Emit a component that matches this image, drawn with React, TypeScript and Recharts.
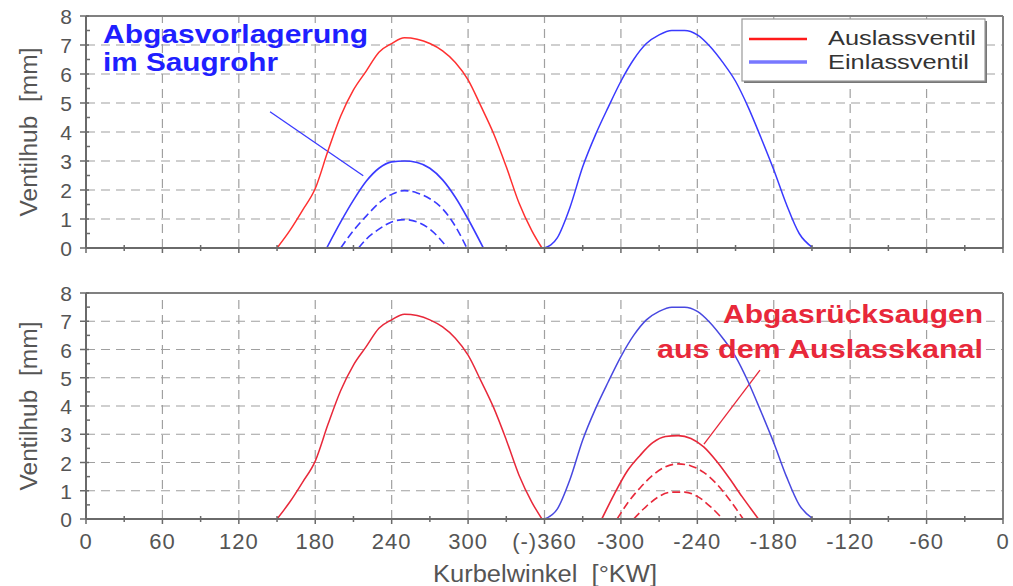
import React from "react";
import { LineChart, Line, XAxis, YAxis, ReferenceLine, Label } from "recharts";

// crank angle ticks (0..720 °KW, second half labelled negative)
const xTicks = [0, 30, 60, 90, 120, 150, 180, 210, 240, 270, 300, 330, 360, 390, 420, 450, 480, 510, 540, 570, 600, 630, 660, 690, 720];
const xTickLabels = ["0", "60", "120", "180", "240", "300", "(-)360", "-300", "-240", "-180", "-120", "-60", "0"];
const yTicks = [0, 0.5, 1, 1.5, 2, 2.5, 3, 3.5, 4, 4.5, 5, 5.5, 6, 6.5, 7, 7.5, 8];
const gridX = [60, 120, 180, 240, 300, 360, 420, 480, 540, 600, 660];
const gridY = [1, 2, 3, 4, 5, 6, 7];

// Auslassventil
const exhaustAngle = [150, 160, 170, 180, 190, 200, 210, 220, 230, 240, 250, 260, 270, 280, 290, 300, 310, 320, 330, 340, 350, 358];
const exhaustLift = [0, 0.6, 1.3, 2.05, 3.35, 4.55, 5.45, 6.1, 6.75, 7.05, 7.25, 7.2, 7.05, 6.8, 6.4, 5.8, 4.9, 3.95, 2.8, 1.55, 0.6, 0];

// Einlassventil
const intakeAngle = [360, 370, 380, 390, 400, 410, 420, 430, 440, 450, 460, 470, 480, 490, 500, 510, 520, 530, 540, 550, 560, 571];
const intakeLift = [0, 0.35, 1.4, 2.8, 3.9, 4.85, 5.75, 6.5, 7.05, 7.35, 7.5, 7.5, 7.35, 6.95, 6.4, 5.75, 4.85, 3.8, 2.7, 1.5, 0.5, 0];

// Abgasvorlagerung im Saugrohr (intake pre-lift)
const preLift3Angle = [189, 200, 210, 220, 230, 240, 250, 260, 270, 280, 290, 300, 312];
const preLift3 = [0, 0.9, 1.65, 2.3, 2.75, 2.97, 3.0, 2.95, 2.75, 2.35, 1.75, 1.0, 0];
const preLift2Angle = [200, 210, 220, 230, 240, 250, 260, 270, 280, 290, 299];
const preLift2 = [0, 0.6, 1.1, 1.55, 1.85, 1.98, 1.9, 1.7, 1.35, 0.75, 0];
const preLift1Angle = [214, 220, 230, 240, 250, 260, 270, 284];
const preLift1 = [0, 0.3, 0.65, 0.9, 0.98, 0.9, 0.65, 0];

// Abgasrücksaugen aus dem Auslasskanal (exhaust post-lift)
const postLift3Angle = [405, 415, 425, 435, 445, 455, 465, 475, 485, 495, 505, 515, 528];
const postLift3 = [0, 0.9, 1.7, 2.25, 2.7, 2.92, 2.95, 2.85, 2.55, 2.05, 1.45, 0.8, 0];
const postLift2Angle = [417, 425, 435, 445, 455, 465, 475, 485, 495, 505, 516];
const postLift2 = [0, 0.55, 1.1, 1.55, 1.85, 1.95, 1.88, 1.65, 1.25, 0.7, 0];
const postLift1Angle = [430, 440, 450, 460, 470, 480, 490, 500];
const postLift1 = [0, 0.45, 0.8, 0.95, 0.95, 0.8, 0.45, 0];

const toPoints = (angles: number[], lifts: number[]) =>
  angles.map((deg, i) => ({ deg, lift: lifts[i] }));

const RED = "#ff3030";
const RED2 = "#e8283a";
const BLUE = "#3a3aff";
const BLUE2 = "#4848e0";
const AXIS = "#6a6a6a";
const GRID = "#a0a0a0";
const FONT = "'Liberation Sans', Arial, sans-serif";

function XTick(props: any) {
  const { x, y, payload, showLabel } = props;
  const v = payload.value as number;
  const major = v % 60 === 0;
  return (
    <g>
      <line x1={x} x2={x} y1={y - (major ? 0 : 3)} y2={y + (major ? 5 : 3)} stroke={AXIS} strokeWidth={1.5} />
      {showLabel && major ? (
        <text x={x} y={y + 30} textAnchor="middle" fontSize={22} fill="#555" fontFamily={FONT} letterSpacing={1}>
          {xTickLabels[v / 60]}
        </text>
      ) : null}
    </g>
  );
}

function YTick(props: any) {
  const { x, y, payload } = props;
  const v = payload.value as number;
  const major = Number.isInteger(v);
  return (
    <g>
      {major ? (
        <line x1={x - 6} x2={x + 3} y1={y} y2={y} stroke={AXIS} strokeWidth={1.5} />
      ) : (
        <line x1={x} x2={x + 4} y1={y} y2={y} stroke={AXIS} strokeWidth={1.5} />
      )}
      {major ? (
        <text x={x - 14} y={y + 8} textAnchor="end" fontSize={21} fill="#555" fontFamily={FONT}>
          {v}
        </text>
      ) : null}
    </g>
  );
}

const yTitle = (props: any) => {
  const vb = props.viewBox || {};
  const cx = 37;
  const cy = vb.y + vb.height / 2;
  return (
    <text x={cx} y={cy} transform={`rotate(-90, ${cx}, ${cy})`} textAnchor="middle" fontSize={23}
      fill="#555" fontFamily={FONT} textLength={169} lengthAdjust="spacingAndGlyphs">
      {"Ventilhub\u00a0\u00a0[mm]"}
    </text>
  );
};

const xTitle = (props: any) => {
  const vb = props.viewBox || {};
  return (
    <text x={545} y={vb.y + 63} textAnchor="middle" fontSize={23} fill="#555" fontFamily={FONT}
      textLength={224} lengthAdjust="spacingAndGlyphs">
      {"Kurbelwinkel\u00a0\u00a0[°KW]"}
    </text>
  );
};

function Panel({ top, height, marginTop, axisHeight, showLabels, children }: any) {
  return (
    <div style={{ position: "absolute", left: 0, top }}>
      <LineChart width={1013} height={height} margin={{ top: marginTop, right: 10, bottom: 0, left: 0 }}>
        <XAxis dataKey="deg" type="number" domain={[0, 720]} ticks={xTicks} interval={0}
          tickSize={0} tickMargin={0} height={axisHeight} stroke={AXIS} strokeWidth={2}
          tick={<XTick showLabel={showLabels} />} allowDataOverflow>
          {showLabels ? <Label content={xTitle} /> : null}
        </XAxis>
        <YAxis type="number" domain={[0, 8]} ticks={yTicks} interval={0} width={86}
          tickSize={0} tickMargin={0} stroke={AXIS} strokeWidth={2} tick={<YTick />} allowDataOverflow>
          <Label content={yTitle} />
        </YAxis>
        {gridX.map((v) => (
          <ReferenceLine key={"gx" + v} x={v} stroke={GRID} strokeDasharray="9 6" strokeWidth={1.2} />
        ))}
        {gridY.map((v) => (
          <ReferenceLine key={"gy" + v} y={v} stroke={GRID} strokeDasharray="9 6" strokeWidth={1.2} />
        ))}
        <ReferenceLine y={8} stroke="#808080" strokeWidth={2} />
        <ReferenceLine x={720} stroke="#808080" strokeWidth={2} />
        {children}
      </LineChart>
    </div>
  );
}

export default function App() {
  return (
    <div style={{ position: "absolute", left: 0, top: 0, width: 1013, height: 586, background: "#fff", overflow: "hidden" }}>
      <Panel top={0} height={270} marginTop={16} axisHeight={22} showLabels={false}>
        <ReferenceLine segment={[{ x: 144.5, y: 4.7 }, { x: 217.7, y: 2.49 }]} stroke={BLUE} strokeWidth={1.3} />
        <Line data={toPoints(exhaustAngle, exhaustLift)} dataKey="lift" type="monotone" stroke={RED} strokeWidth={1.5} dot={false} isAnimationActive={false} />
        <Line data={toPoints(intakeAngle, intakeLift)} dataKey="lift" type="monotone" stroke={BLUE} strokeWidth={1.5} dot={false} isAnimationActive={false} />
        <Line data={toPoints(preLift3Angle, preLift3)} dataKey="lift" type="monotone" stroke={BLUE} strokeWidth={1.6} dot={false} isAnimationActive={false} />
        <Line data={toPoints(preLift2Angle, preLift2)} dataKey="lift" type="monotone" stroke={BLUE} strokeWidth={1.6} strokeDasharray="8 4" dot={false} isAnimationActive={false} />
        <Line data={toPoints(preLift1Angle, preLift1)} dataKey="lift" type="monotone" stroke={BLUE} strokeWidth={1.6} strokeDasharray="8 4" dot={false} isAnimationActive={false} />
      </Panel>
      <Panel top={270} height={316} marginTop={23} axisHeight={67} showLabels={true}>
        <ReferenceLine segment={[{ x: 529.2, y: 5.27 }, { x: 485.2, y: 2.65 }]} stroke={RED2} strokeWidth={1.3} />
        <Line data={toPoints(exhaustAngle, exhaustLift)} dataKey="lift" type="monotone" stroke={RED2} strokeWidth={1.5} dot={false} isAnimationActive={false} />
        <Line data={toPoints(intakeAngle, intakeLift)} dataKey="lift" type="monotone" stroke={BLUE2} strokeWidth={1.5} dot={false} isAnimationActive={false} />
        <Line data={toPoints(postLift3Angle, postLift3)} dataKey="lift" type="monotone" stroke={RED2} strokeWidth={1.6} dot={false} isAnimationActive={false} />
        <Line data={toPoints(postLift2Angle, postLift2)} dataKey="lift" type="monotone" stroke={RED2} strokeWidth={1.6} strokeDasharray="8 4" dot={false} isAnimationActive={false} />
        <Line data={toPoints(postLift1Angle, postLift1)} dataKey="lift" type="monotone" stroke={RED2} strokeWidth={1.6} strokeDasharray="8 4" dot={false} isAnimationActive={false} />
      </Panel>
      <svg width={1013} height={586} style={{ position: "absolute", left: 0, top: 0, pointerEvents: "none" }}>
        <g fontFamily={FONT} fontWeight="bold">
          <text x={103} y={43} fontSize={26} fill="#1f1fff" textLength={265} lengthAdjust="spacingAndGlyphs">Abgasvorlagerung</text>
          <text x={103} y={71} fontSize={26} fill="#1f1fff" textLength={175} lengthAdjust="spacingAndGlyphs">im Saugrohr</text>
          <text x={983} y={323} fontSize={25} fill={RED2} textAnchor="end" textLength={260} lengthAdjust="spacingAndGlyphs">Abgasrücksaugen</text>
          <text x={983} y={358} fontSize={25} fill={RED2} textAnchor="end" textLength={326} lengthAdjust="spacingAndGlyphs">aus dem Auslasskanal</text>
        </g>
        <rect x={744} y={21} width={243} height={62} fill="#777" />
        <rect x={742} y={19} width={243} height={62} fill="#fff" stroke="#999" strokeWidth={1.2} />
        <line x1={749} x2={807} y1={39} y2={39} stroke="#ff1a1a" strokeWidth={2.5} />
        <line x1={749} x2={807} y1={62} y2={62} stroke="#7878ff" strokeWidth={3.5} />
        <text x={828} y={45} fontSize={20} fill="#333" fontFamily={FONT} textLength={148} lengthAdjust="spacingAndGlyphs">Auslassventil</text>
        <text x={828} y={69} fontSize={20} fill="#333" fontFamily={FONT} textLength={141} lengthAdjust="spacingAndGlyphs">Einlassventil</text>
      </svg>
    </div>
  );
}
